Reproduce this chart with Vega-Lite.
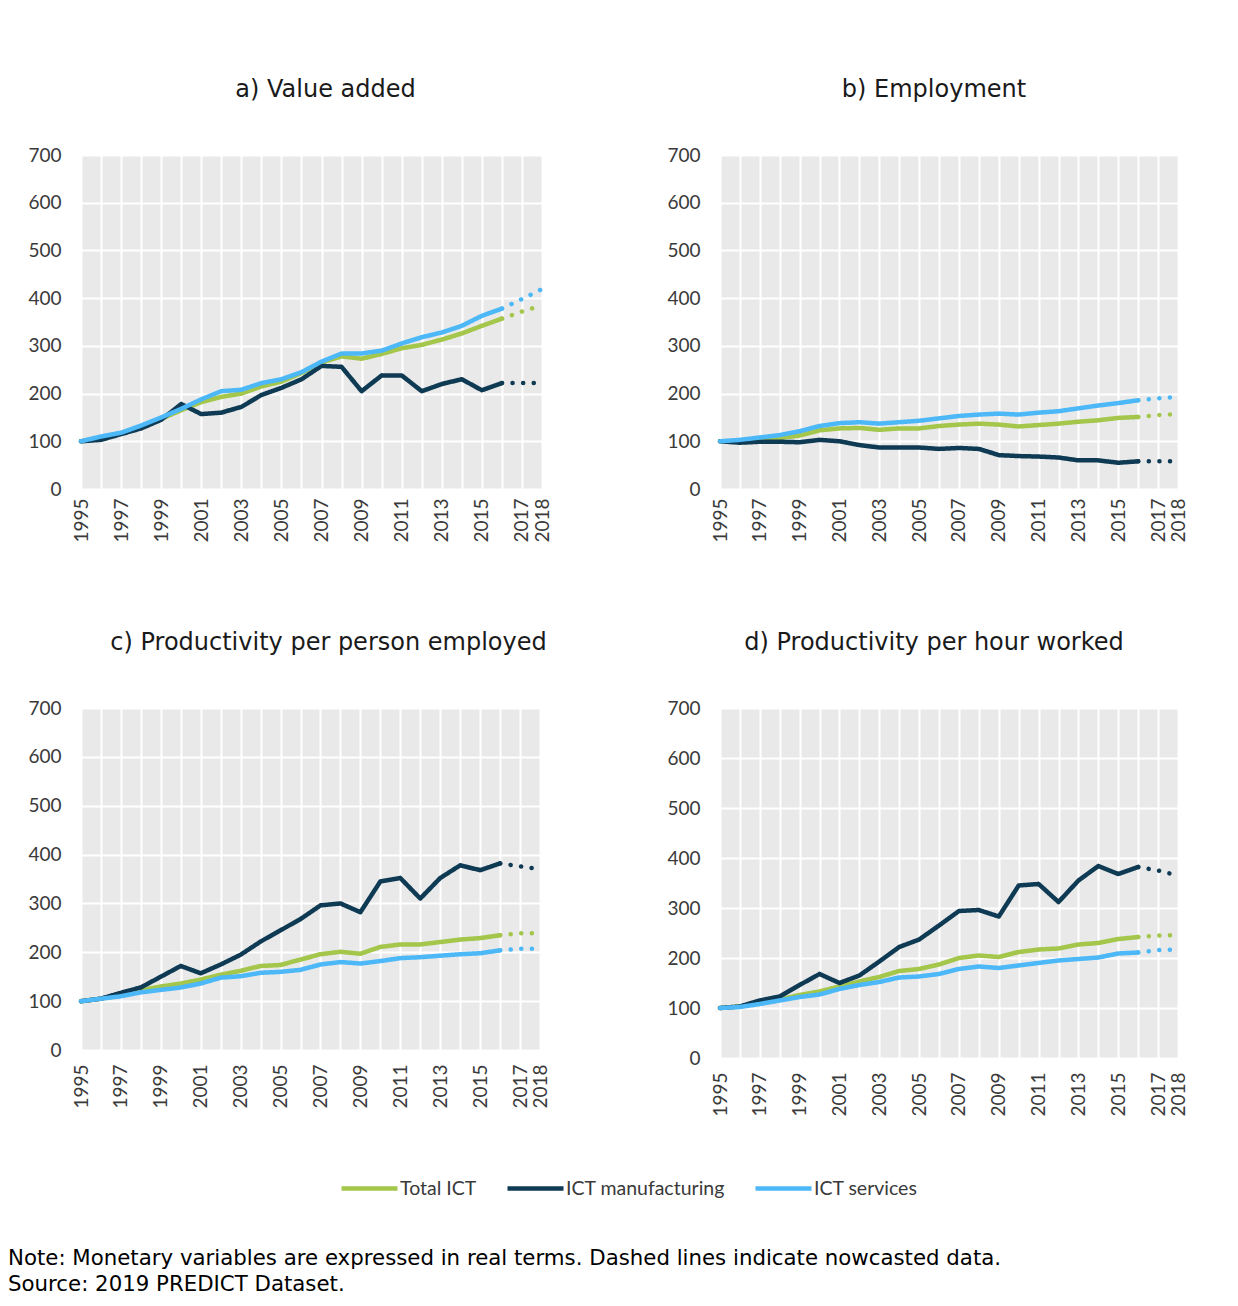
{
  "$schema": "https://vega.github.io/schema/vega-lite/v6.json",
  "background": "white",
  "padding": {"left": 8, "top": 78, "right": 5, "bottom": 5},
  "datasets": {
    "d": [
      {"p":"a","s":"Total ICT","x":1995,"v":100,"k":"actual"},{"p":"a","s":"Total ICT","x":1996,"v":108,"k":"actual"},{"p":"a","s":"Total ICT","x":1997,"v":117,"k":"actual"},{"p":"a","s":"Total ICT","x":1998,"v":130,"k":"actual"},{"p":"a","s":"Total ICT","x":1999,"v":147,"k":"actual"},{"p":"a","s":"Total ICT","x":2000,"v":165,"k":"actual"},{"p":"a","s":"Total ICT","x":2001,"v":182,"k":"actual"},{"p":"a","s":"Total ICT","x":2002,"v":193,"k":"actual"},{"p":"a","s":"Total ICT","x":2003,"v":200,"k":"actual"},{"p":"a","s":"Total ICT","x":2004,"v":215,"k":"actual"},{"p":"a","s":"Total ICT","x":2005,"v":225,"k":"actual"},{"p":"a","s":"Total ICT","x":2006,"v":243,"k":"actual"},{"p":"a","s":"Total ICT","x":2007,"v":265,"k":"actual"},{"p":"a","s":"Total ICT","x":2008,"v":278,"k":"actual"},{"p":"a","s":"Total ICT","x":2009,"v":273,"k":"actual"},{"p":"a","s":"Total ICT","x":2010,"v":283,"k":"actual"},{"p":"a","s":"Total ICT","x":2011,"v":295,"k":"actual"},{"p":"a","s":"Total ICT","x":2012,"v":302,"k":"actual"},{"p":"a","s":"Total ICT","x":2013,"v":313,"k":"actual"},{"p":"a","s":"Total ICT","x":2014,"v":326,"k":"actual"},{"p":"a","s":"Total ICT","x":2015,"v":342,"k":"actual"},{"p":"a","s":"Total ICT","x":2016,"v":357,"k":"actual"},
      {"p":"a","s":"Total ICT","x":2016,"v":357,"k":"nowcast"},{"p":"a","s":"Total ICT","x":2017,"v":372,"k":"nowcast"},{"p":"a","s":"Total ICT","x":2018,"v":385,"k":"nowcast"},
      {"p":"a","s":"ICT manufacturing","x":1995,"v":100,"k":"actual"},{"p":"a","s":"ICT manufacturing","x":1996,"v":103,"k":"actual"},{"p":"a","s":"ICT manufacturing","x":1997,"v":115,"k":"actual"},{"p":"a","s":"ICT manufacturing","x":1998,"v":127,"k":"actual"},{"p":"a","s":"ICT manufacturing","x":1999,"v":145,"k":"actual"},{"p":"a","s":"ICT manufacturing","x":2000,"v":178,"k":"actual"},{"p":"a","s":"ICT manufacturing","x":2001,"v":157,"k":"actual"},{"p":"a","s":"ICT manufacturing","x":2002,"v":160,"k":"actual"},{"p":"a","s":"ICT manufacturing","x":2003,"v":172,"k":"actual"},{"p":"a","s":"ICT manufacturing","x":2004,"v":197,"k":"actual"},{"p":"a","s":"ICT manufacturing","x":2005,"v":212,"k":"actual"},{"p":"a","s":"ICT manufacturing","x":2006,"v":230,"k":"actual"},{"p":"a","s":"ICT manufacturing","x":2007,"v":258,"k":"actual"},{"p":"a","s":"ICT manufacturing","x":2008,"v":256,"k":"actual"},{"p":"a","s":"ICT manufacturing","x":2009,"v":205,"k":"actual"},{"p":"a","s":"ICT manufacturing","x":2010,"v":238,"k":"actual"},{"p":"a","s":"ICT manufacturing","x":2011,"v":238,"k":"actual"},{"p":"a","s":"ICT manufacturing","x":2012,"v":205,"k":"actual"},{"p":"a","s":"ICT manufacturing","x":2013,"v":220,"k":"actual"},{"p":"a","s":"ICT manufacturing","x":2014,"v":230,"k":"actual"},{"p":"a","s":"ICT manufacturing","x":2015,"v":207,"k":"actual"},{"p":"a","s":"ICT manufacturing","x":2016,"v":222,"k":"actual"},
      {"p":"a","s":"ICT manufacturing","x":2016,"v":222,"k":"nowcast"},{"p":"a","s":"ICT manufacturing","x":2017,"v":222,"k":"nowcast"},{"p":"a","s":"ICT manufacturing","x":2018,"v":222,"k":"nowcast"},
      {"p":"a","s":"ICT services","x":1995,"v":100,"k":"actual"},{"p":"a","s":"ICT services","x":1996,"v":110,"k":"actual"},{"p":"a","s":"ICT services","x":1997,"v":118,"k":"actual"},{"p":"a","s":"ICT services","x":1998,"v":133,"k":"actual"},{"p":"a","s":"ICT services","x":1999,"v":150,"k":"actual"},{"p":"a","s":"ICT services","x":2000,"v":168,"k":"actual"},{"p":"a","s":"ICT services","x":2001,"v":188,"k":"actual"},{"p":"a","s":"ICT services","x":2002,"v":205,"k":"actual"},{"p":"a","s":"ICT services","x":2003,"v":208,"k":"actual"},{"p":"a","s":"ICT services","x":2004,"v":222,"k":"actual"},{"p":"a","s":"ICT services","x":2005,"v":230,"k":"actual"},{"p":"a","s":"ICT services","x":2006,"v":245,"k":"actual"},{"p":"a","s":"ICT services","x":2007,"v":267,"k":"actual"},{"p":"a","s":"ICT services","x":2008,"v":284,"k":"actual"},{"p":"a","s":"ICT services","x":2009,"v":284,"k":"actual"},{"p":"a","s":"ICT services","x":2010,"v":290,"k":"actual"},{"p":"a","s":"ICT services","x":2011,"v":305,"k":"actual"},{"p":"a","s":"ICT services","x":2012,"v":318,"k":"actual"},{"p":"a","s":"ICT services","x":2013,"v":328,"k":"actual"},{"p":"a","s":"ICT services","x":2014,"v":342,"k":"actual"},{"p":"a","s":"ICT services","x":2015,"v":363,"k":"actual"},{"p":"a","s":"ICT services","x":2016,"v":378,"k":"actual"},
      {"p":"a","s":"ICT services","x":2016,"v":378,"k":"nowcast"},{"p":"a","s":"ICT services","x":2017,"v":398,"k":"nowcast"},{"p":"a","s":"ICT services","x":2018,"v":419,"k":"nowcast"},

      {"p":"b","s":"Total ICT","x":1995,"v":100,"k":"actual"},{"p":"b","s":"Total ICT","x":1996,"v":100,"k":"actual"},{"p":"b","s":"Total ICT","x":1997,"v":104,"k":"actual"},{"p":"b","s":"Total ICT","x":1998,"v":107,"k":"actual"},{"p":"b","s":"Total ICT","x":1999,"v":112,"k":"actual"},{"p":"b","s":"Total ICT","x":2000,"v":123,"k":"actual"},{"p":"b","s":"Total ICT","x":2001,"v":127,"k":"actual"},{"p":"b","s":"Total ICT","x":2002,"v":128,"k":"actual"},{"p":"b","s":"Total ICT","x":2003,"v":124,"k":"actual"},{"p":"b","s":"Total ICT","x":2004,"v":127,"k":"actual"},{"p":"b","s":"Total ICT","x":2005,"v":127,"k":"actual"},{"p":"b","s":"Total ICT","x":2006,"v":132,"k":"actual"},{"p":"b","s":"Total ICT","x":2007,"v":135,"k":"actual"},{"p":"b","s":"Total ICT","x":2008,"v":137,"k":"actual"},{"p":"b","s":"Total ICT","x":2009,"v":135,"k":"actual"},{"p":"b","s":"Total ICT","x":2010,"v":131,"k":"actual"},{"p":"b","s":"Total ICT","x":2011,"v":134,"k":"actual"},{"p":"b","s":"Total ICT","x":2012,"v":137,"k":"actual"},{"p":"b","s":"Total ICT","x":2013,"v":141,"k":"actual"},{"p":"b","s":"Total ICT","x":2014,"v":144,"k":"actual"},{"p":"b","s":"Total ICT","x":2015,"v":149,"k":"actual"},{"p":"b","s":"Total ICT","x":2016,"v":151,"k":"actual"},
      {"p":"b","s":"Total ICT","x":2016,"v":151,"k":"nowcast"},{"p":"b","s":"Total ICT","x":2017,"v":155,"k":"nowcast"},{"p":"b","s":"Total ICT","x":2018,"v":157,"k":"nowcast"},
      {"p":"b","s":"ICT manufacturing","x":1995,"v":100,"k":"actual"},{"p":"b","s":"ICT manufacturing","x":1996,"v":97,"k":"actual"},{"p":"b","s":"ICT manufacturing","x":1997,"v":99,"k":"actual"},{"p":"b","s":"ICT manufacturing","x":1998,"v":99,"k":"actual"},{"p":"b","s":"ICT manufacturing","x":1999,"v":98,"k":"actual"},{"p":"b","s":"ICT manufacturing","x":2000,"v":103,"k":"actual"},{"p":"b","s":"ICT manufacturing","x":2001,"v":100,"k":"actual"},{"p":"b","s":"ICT manufacturing","x":2002,"v":92,"k":"actual"},{"p":"b","s":"ICT manufacturing","x":2003,"v":87,"k":"actual"},{"p":"b","s":"ICT manufacturing","x":2004,"v":87,"k":"actual"},{"p":"b","s":"ICT manufacturing","x":2005,"v":87,"k":"actual"},{"p":"b","s":"ICT manufacturing","x":2006,"v":84,"k":"actual"},{"p":"b","s":"ICT manufacturing","x":2007,"v":86,"k":"actual"},{"p":"b","s":"ICT manufacturing","x":2008,"v":84,"k":"actual"},{"p":"b","s":"ICT manufacturing","x":2009,"v":71,"k":"actual"},{"p":"b","s":"ICT manufacturing","x":2010,"v":69,"k":"actual"},{"p":"b","s":"ICT manufacturing","x":2011,"v":68,"k":"actual"},{"p":"b","s":"ICT manufacturing","x":2012,"v":66,"k":"actual"},{"p":"b","s":"ICT manufacturing","x":2013,"v":60,"k":"actual"},{"p":"b","s":"ICT manufacturing","x":2014,"v":60,"k":"actual"},{"p":"b","s":"ICT manufacturing","x":2015,"v":55,"k":"actual"},{"p":"b","s":"ICT manufacturing","x":2016,"v":58,"k":"actual"},
      {"p":"b","s":"ICT manufacturing","x":2016,"v":58,"k":"nowcast"},{"p":"b","s":"ICT manufacturing","x":2017,"v":58,"k":"nowcast"},{"p":"b","s":"ICT manufacturing","x":2018,"v":58,"k":"nowcast"},
      {"p":"b","s":"ICT services","x":1995,"v":100,"k":"actual"},{"p":"b","s":"ICT services","x":1996,"v":103,"k":"actual"},{"p":"b","s":"ICT services","x":1997,"v":108,"k":"actual"},{"p":"b","s":"ICT services","x":1998,"v":113,"k":"actual"},{"p":"b","s":"ICT services","x":1999,"v":121,"k":"actual"},{"p":"b","s":"ICT services","x":2000,"v":132,"k":"actual"},{"p":"b","s":"ICT services","x":2001,"v":138,"k":"actual"},{"p":"b","s":"ICT services","x":2002,"v":140,"k":"actual"},{"p":"b","s":"ICT services","x":2003,"v":137,"k":"actual"},{"p":"b","s":"ICT services","x":2004,"v":140,"k":"actual"},{"p":"b","s":"ICT services","x":2005,"v":143,"k":"actual"},{"p":"b","s":"ICT services","x":2006,"v":148,"k":"actual"},{"p":"b","s":"ICT services","x":2007,"v":153,"k":"actual"},{"p":"b","s":"ICT services","x":2008,"v":156,"k":"actual"},{"p":"b","s":"ICT services","x":2009,"v":158,"k":"actual"},{"p":"b","s":"ICT services","x":2010,"v":156,"k":"actual"},{"p":"b","s":"ICT services","x":2011,"v":160,"k":"actual"},{"p":"b","s":"ICT services","x":2012,"v":163,"k":"actual"},{"p":"b","s":"ICT services","x":2013,"v":169,"k":"actual"},{"p":"b","s":"ICT services","x":2014,"v":175,"k":"actual"},{"p":"b","s":"ICT services","x":2015,"v":180,"k":"actual"},{"p":"b","s":"ICT services","x":2016,"v":186,"k":"actual"},
      {"p":"b","s":"ICT services","x":2016,"v":186,"k":"nowcast"},{"p":"b","s":"ICT services","x":2017,"v":190,"k":"nowcast"},{"p":"b","s":"ICT services","x":2018,"v":193,"k":"nowcast"},

      {"p":"c","s":"Total ICT","x":1995,"v":100,"k":"actual"},{"p":"c","s":"Total ICT","x":1996,"v":105,"k":"actual"},{"p":"c","s":"Total ICT","x":1997,"v":112,"k":"actual"},{"p":"c","s":"Total ICT","x":1998,"v":122,"k":"actual"},{"p":"c","s":"Total ICT","x":1999,"v":130,"k":"actual"},{"p":"c","s":"Total ICT","x":2000,"v":136,"k":"actual"},{"p":"c","s":"Total ICT","x":2001,"v":144,"k":"actual"},{"p":"c","s":"Total ICT","x":2002,"v":154,"k":"actual"},{"p":"c","s":"Total ICT","x":2003,"v":162,"k":"actual"},{"p":"c","s":"Total ICT","x":2004,"v":172,"k":"actual"},{"p":"c","s":"Total ICT","x":2005,"v":174,"k":"actual"},{"p":"c","s":"Total ICT","x":2006,"v":185,"k":"actual"},{"p":"c","s":"Total ICT","x":2007,"v":196,"k":"actual"},{"p":"c","s":"Total ICT","x":2008,"v":201,"k":"actual"},{"p":"c","s":"Total ICT","x":2009,"v":197,"k":"actual"},{"p":"c","s":"Total ICT","x":2010,"v":211,"k":"actual"},{"p":"c","s":"Total ICT","x":2011,"v":216,"k":"actual"},{"p":"c","s":"Total ICT","x":2012,"v":216,"k":"actual"},{"p":"c","s":"Total ICT","x":2013,"v":221,"k":"actual"},{"p":"c","s":"Total ICT","x":2014,"v":226,"k":"actual"},{"p":"c","s":"Total ICT","x":2015,"v":229,"k":"actual"},{"p":"c","s":"Total ICT","x":2016,"v":235,"k":"actual"},
      {"p":"c","s":"Total ICT","x":2016,"v":235,"k":"nowcast"},{"p":"c","s":"Total ICT","x":2017,"v":239,"k":"nowcast"},{"p":"c","s":"Total ICT","x":2018,"v":239,"k":"nowcast"},
      {"p":"c","s":"ICT manufacturing","x":1995,"v":100,"k":"actual"},{"p":"c","s":"ICT manufacturing","x":1996,"v":105,"k":"actual"},{"p":"c","s":"ICT manufacturing","x":1997,"v":117,"k":"actual"},{"p":"c","s":"ICT manufacturing","x":1998,"v":128,"k":"actual"},{"p":"c","s":"ICT manufacturing","x":1999,"v":150,"k":"actual"},{"p":"c","s":"ICT manufacturing","x":2000,"v":172,"k":"actual"},{"p":"c","s":"ICT manufacturing","x":2001,"v":157,"k":"actual"},{"p":"c","s":"ICT manufacturing","x":2002,"v":175,"k":"actual"},{"p":"c","s":"ICT manufacturing","x":2003,"v":195,"k":"actual"},{"p":"c","s":"ICT manufacturing","x":2004,"v":222,"k":"actual"},{"p":"c","s":"ICT manufacturing","x":2005,"v":245,"k":"actual"},{"p":"c","s":"ICT manufacturing","x":2006,"v":268,"k":"actual"},{"p":"c","s":"ICT manufacturing","x":2007,"v":296,"k":"actual"},{"p":"c","s":"ICT manufacturing","x":2008,"v":300,"k":"actual"},{"p":"c","s":"ICT manufacturing","x":2009,"v":282,"k":"actual"},{"p":"c","s":"ICT manufacturing","x":2010,"v":345,"k":"actual"},{"p":"c","s":"ICT manufacturing","x":2011,"v":352,"k":"actual"},{"p":"c","s":"ICT manufacturing","x":2012,"v":310,"k":"actual"},{"p":"c","s":"ICT manufacturing","x":2013,"v":352,"k":"actual"},{"p":"c","s":"ICT manufacturing","x":2014,"v":378,"k":"actual"},{"p":"c","s":"ICT manufacturing","x":2015,"v":368,"k":"actual"},{"p":"c","s":"ICT manufacturing","x":2016,"v":382,"k":"actual"},
      {"p":"c","s":"ICT manufacturing","x":2016,"v":382,"k":"nowcast"},{"p":"c","s":"ICT manufacturing","x":2017,"v":376,"k":"nowcast"},{"p":"c","s":"ICT manufacturing","x":2018,"v":370,"k":"nowcast"},
      {"p":"c","s":"ICT services","x":1995,"v":100,"k":"actual"},{"p":"c","s":"ICT services","x":1996,"v":105,"k":"actual"},{"p":"c","s":"ICT services","x":1997,"v":110,"k":"actual"},{"p":"c","s":"ICT services","x":1998,"v":118,"k":"actual"},{"p":"c","s":"ICT services","x":1999,"v":123,"k":"actual"},{"p":"c","s":"ICT services","x":2000,"v":128,"k":"actual"},{"p":"c","s":"ICT services","x":2001,"v":136,"k":"actual"},{"p":"c","s":"ICT services","x":2002,"v":148,"k":"actual"},{"p":"c","s":"ICT services","x":2003,"v":151,"k":"actual"},{"p":"c","s":"ICT services","x":2004,"v":158,"k":"actual"},{"p":"c","s":"ICT services","x":2005,"v":160,"k":"actual"},{"p":"c","s":"ICT services","x":2006,"v":164,"k":"actual"},{"p":"c","s":"ICT services","x":2007,"v":175,"k":"actual"},{"p":"c","s":"ICT services","x":2008,"v":180,"k":"actual"},{"p":"c","s":"ICT services","x":2009,"v":177,"k":"actual"},{"p":"c","s":"ICT services","x":2010,"v":182,"k":"actual"},{"p":"c","s":"ICT services","x":2011,"v":188,"k":"actual"},{"p":"c","s":"ICT services","x":2012,"v":190,"k":"actual"},{"p":"c","s":"ICT services","x":2013,"v":193,"k":"actual"},{"p":"c","s":"ICT services","x":2014,"v":196,"k":"actual"},{"p":"c","s":"ICT services","x":2015,"v":198,"k":"actual"},{"p":"c","s":"ICT services","x":2016,"v":204,"k":"actual"},
      {"p":"c","s":"ICT services","x":2016,"v":204,"k":"nowcast"},{"p":"c","s":"ICT services","x":2017,"v":207,"k":"nowcast"},{"p":"c","s":"ICT services","x":2018,"v":207,"k":"nowcast"},

      {"p":"d","s":"Total ICT","x":1995,"v":100,"k":"actual"},{"p":"d","s":"Total ICT","x":1996,"v":103,"k":"actual"},{"p":"d","s":"Total ICT","x":1997,"v":110,"k":"actual"},{"p":"d","s":"Total ICT","x":1998,"v":117,"k":"actual"},{"p":"d","s":"Total ICT","x":1999,"v":126,"k":"actual"},{"p":"d","s":"Total ICT","x":2000,"v":133,"k":"actual"},{"p":"d","s":"Total ICT","x":2001,"v":143,"k":"actual"},{"p":"d","s":"Total ICT","x":2002,"v":153,"k":"actual"},{"p":"d","s":"Total ICT","x":2003,"v":162,"k":"actual"},{"p":"d","s":"Total ICT","x":2004,"v":174,"k":"actual"},{"p":"d","s":"Total ICT","x":2005,"v":178,"k":"actual"},{"p":"d","s":"Total ICT","x":2006,"v":187,"k":"actual"},{"p":"d","s":"Total ICT","x":2007,"v":200,"k":"actual"},{"p":"d","s":"Total ICT","x":2008,"v":205,"k":"actual"},{"p":"d","s":"Total ICT","x":2009,"v":202,"k":"actual"},{"p":"d","s":"Total ICT","x":2010,"v":212,"k":"actual"},{"p":"d","s":"Total ICT","x":2011,"v":217,"k":"actual"},{"p":"d","s":"Total ICT","x":2012,"v":219,"k":"actual"},{"p":"d","s":"Total ICT","x":2013,"v":227,"k":"actual"},{"p":"d","s":"Total ICT","x":2014,"v":230,"k":"actual"},{"p":"d","s":"Total ICT","x":2015,"v":238,"k":"actual"},{"p":"d","s":"Total ICT","x":2016,"v":242,"k":"actual"},
      {"p":"d","s":"Total ICT","x":2016,"v":242,"k":"nowcast"},{"p":"d","s":"Total ICT","x":2017,"v":245,"k":"nowcast"},{"p":"d","s":"Total ICT","x":2018,"v":246,"k":"nowcast"},
      {"p":"d","s":"ICT manufacturing","x":1995,"v":100,"k":"actual"},{"p":"d","s":"ICT manufacturing","x":1996,"v":103,"k":"actual"},{"p":"d","s":"ICT manufacturing","x":1997,"v":115,"k":"actual"},{"p":"d","s":"ICT manufacturing","x":1998,"v":123,"k":"actual"},{"p":"d","s":"ICT manufacturing","x":1999,"v":146,"k":"actual"},{"p":"d","s":"ICT manufacturing","x":2000,"v":168,"k":"actual"},{"p":"d","s":"ICT manufacturing","x":2001,"v":150,"k":"actual"},{"p":"d","s":"ICT manufacturing","x":2002,"v":165,"k":"actual"},{"p":"d","s":"ICT manufacturing","x":2003,"v":193,"k":"actual"},{"p":"d","s":"ICT manufacturing","x":2004,"v":222,"k":"actual"},{"p":"d","s":"ICT manufacturing","x":2005,"v":237,"k":"actual"},{"p":"d","s":"ICT manufacturing","x":2006,"v":265,"k":"actual"},{"p":"d","s":"ICT manufacturing","x":2007,"v":294,"k":"actual"},{"p":"d","s":"ICT manufacturing","x":2008,"v":296,"k":"actual"},{"p":"d","s":"ICT manufacturing","x":2009,"v":283,"k":"actual"},{"p":"d","s":"ICT manufacturing","x":2010,"v":345,"k":"actual"},{"p":"d","s":"ICT manufacturing","x":2011,"v":348,"k":"actual"},{"p":"d","s":"ICT manufacturing","x":2012,"v":312,"k":"actual"},{"p":"d","s":"ICT manufacturing","x":2013,"v":355,"k":"actual"},{"p":"d","s":"ICT manufacturing","x":2014,"v":384,"k":"actual"},{"p":"d","s":"ICT manufacturing","x":2015,"v":368,"k":"actual"},{"p":"d","s":"ICT manufacturing","x":2016,"v":382,"k":"actual"},
      {"p":"d","s":"ICT manufacturing","x":2016,"v":382,"k":"nowcast"},{"p":"d","s":"ICT manufacturing","x":2017,"v":375,"k":"nowcast"},{"p":"d","s":"ICT manufacturing","x":2018,"v":365,"k":"nowcast"},
      {"p":"d","s":"ICT services","x":1995,"v":100,"k":"actual"},{"p":"d","s":"ICT services","x":1996,"v":102,"k":"actual"},{"p":"d","s":"ICT services","x":1997,"v":108,"k":"actual"},{"p":"d","s":"ICT services","x":1998,"v":115,"k":"actual"},{"p":"d","s":"ICT services","x":1999,"v":122,"k":"actual"},{"p":"d","s":"ICT services","x":2000,"v":127,"k":"actual"},{"p":"d","s":"ICT services","x":2001,"v":138,"k":"actual"},{"p":"d","s":"ICT services","x":2002,"v":146,"k":"actual"},{"p":"d","s":"ICT services","x":2003,"v":152,"k":"actual"},{"p":"d","s":"ICT services","x":2004,"v":161,"k":"actual"},{"p":"d","s":"ICT services","x":2005,"v":163,"k":"actual"},{"p":"d","s":"ICT services","x":2006,"v":168,"k":"actual"},{"p":"d","s":"ICT services","x":2007,"v":178,"k":"actual"},{"p":"d","s":"ICT services","x":2008,"v":183,"k":"actual"},{"p":"d","s":"ICT services","x":2009,"v":180,"k":"actual"},{"p":"d","s":"ICT services","x":2010,"v":185,"k":"actual"},{"p":"d","s":"ICT services","x":2011,"v":190,"k":"actual"},{"p":"d","s":"ICT services","x":2012,"v":195,"k":"actual"},{"p":"d","s":"ICT services","x":2013,"v":198,"k":"actual"},{"p":"d","s":"ICT services","x":2014,"v":201,"k":"actual"},{"p":"d","s":"ICT services","x":2015,"v":209,"k":"actual"},{"p":"d","s":"ICT services","x":2016,"v":211,"k":"actual"},
      {"p":"d","s":"ICT services","x":2016,"v":211,"k":"nowcast"},{"p":"d","s":"ICT services","x":2017,"v":216,"k":"nowcast"},{"p":"d","s":"ICT services","x":2018,"v":217,"k":"nowcast"}
    ]
  },
  "title": {
    "text": ["Note: Monetary variables are expressed in real terms. Dashed lines indicate nowcasted data.", "Source: 2019 PREDICT Dataset."],
    "orient": "bottom",
    "anchor": "start",
    "font": "DejaVu Sans",
    "fontSize": 21.3,
    "fontWeight": "normal",
    "color": "#000000",
    "lineHeight": 26,
    "offset": 50,
    "dx": 0
  },
  "spacing": 88,
  "vconcat": [
    {
      "spacing": 103,
      "hconcat": [
        {
          "title": {"text": "a) Value added", "dx": 14},
          "width": 461, "height": 334,
          "data": {"name": "d"},
          "transform": [{"filter": "datum.p == 'a'"}],
          "mark": {"type": "line"},
          "encoding": {
            "x": {"field": "x", "type": "quantitative", "title": null, "scale": {"domain": [1995, 2018], "nice": false, "zero": false},
                  "axis": {"values": [1995,1996,1997,1998,1999,2000,2001,2002,2003,2004,2005,2006,2007,2008,2009,2010,2011,2012,2013,2014,2015,2016,2017,2018], "labelExpr": "(datum.value % 2 == 1 || datum.value == 2018) ? '' + datum.value : ''", "labelAngle": -90, "labelOverlap": false, "labelFlush": false, "labelPadding": 9}},
            "y": {"field": "v", "type": "quantitative", "title": null, "scale": {"domain": [0, 700], "nice": false},
                  "axis": {"values": [0,100,200,300,400,500,600,700], "labelPadding": 20, "minExtent": 73, "maxExtent": 73}},
            "color": {"field": "s", "type": "nominal", "scale": {"domain": ["Total ICT", "ICT manufacturing", "ICT services"], "range": ["#a3c64b", "#0f3a54", "#4db8f7"]}, "legend": {"title": null, "orient": "none", "legendX": 258, "legendY": 1003, "direction": "horizontal"}},
            "strokeDash": {"field": "k", "type": "nominal", "scale": {"domain": ["actual", "nowcast"], "range": [[1, 0], [0.1, 10.5]]}, "legend": null}
          }
        },
        {
          "title": {"text": "b) Employment", "dx": -15},
          "width": 458, "height": 334,
          "data": {"name": "d"},
          "transform": [{"filter": "datum.p == 'b'"}],
          "mark": {"type": "line"},
          "encoding": {
            "x": {"field": "x", "type": "quantitative", "title": null, "scale": {"domain": [1995, 2018], "nice": false, "zero": false},
                  "axis": {"values": [1995,1996,1997,1998,1999,2000,2001,2002,2003,2004,2005,2006,2007,2008,2009,2010,2011,2012,2013,2014,2015,2016,2017,2018], "labelExpr": "(datum.value % 2 == 1 || datum.value == 2018) ? '' + datum.value : ''", "labelAngle": -90, "labelOverlap": false, "labelFlush": false, "labelPadding": 9}},
            "y": {"field": "v", "type": "quantitative", "title": null, "scale": {"domain": [0, 700], "nice": false},
                  "axis": {"values": [0,100,200,300,400,500,600,700], "labelPadding": 20, "minExtent": 65, "maxExtent": 65}},
            "color": {"field": "s", "type": "nominal", "scale": {"domain": ["Total ICT", "ICT manufacturing", "ICT services"], "range": ["#a3c64b", "#0f3a54", "#4db8f7"]}, "legend": {"title": null, "orient": "none", "legendX": 258, "legendY": 1003, "direction": "horizontal"}},
            "strokeDash": {"field": "k", "type": "nominal", "scale": {"domain": ["actual", "nowcast"], "range": [[1, 0], [0.1, 10.5]]}, "legend": null}
          }
        }
      ]
    },
    {
      "spacing": 105,
      "hconcat": [
        {
          "title": {"text": "c) Productivity per person employed", "dx": 18},
          "width": 459, "height": 342,
          "data": {"name": "d"},
          "transform": [{"filter": "datum.p == 'c'"}],
          "mark": {"type": "line"},
          "encoding": {
            "x": {"field": "x", "type": "quantitative", "title": null, "scale": {"domain": [1995, 2018], "nice": false, "zero": false},
                  "axis": {"values": [1995,1996,1997,1998,1999,2000,2001,2002,2003,2004,2005,2006,2007,2008,2009,2010,2011,2012,2013,2014,2015,2016,2017,2018], "labelExpr": "(datum.value % 2 == 1 || datum.value == 2018) ? '' + datum.value : ''", "labelAngle": -90, "labelOverlap": false, "labelFlush": false, "labelPadding": 14}},
            "y": {"field": "v", "type": "quantitative", "title": null, "scale": {"domain": [0, 700], "nice": false},
                  "axis": {"values": [0,100,200,300,400,500,600,700], "labelPadding": 20, "minExtent": 73, "maxExtent": 73}},
            "color": {"field": "s", "type": "nominal", "scale": {"domain": ["Total ICT", "ICT manufacturing", "ICT services"], "range": ["#a3c64b", "#0f3a54", "#4db8f7"]}, "legend": {"title": null, "orient": "none", "legendX": 258, "legendY": 1003, "direction": "horizontal"}},
            "strokeDash": {"field": "k", "type": "nominal", "scale": {"domain": ["actual", "nowcast"], "range": [[1, 0], [0.1, 10.5]]}, "legend": null}
          }
        },
        {
          "title": {"text": "d) Productivity per hour worked", "dx": -15},
          "width": 458, "height": 350,
          "data": {"name": "d"},
          "transform": [{"filter": "datum.p == 'd'"}],
          "mark": {"type": "line"},
          "encoding": {
            "x": {"field": "x", "type": "quantitative", "title": null, "scale": {"domain": [1995, 2018], "nice": false, "zero": false},
                  "axis": {"values": [1995,1996,1997,1998,1999,2000,2001,2002,2003,2004,2005,2006,2007,2008,2009,2010,2011,2012,2013,2014,2015,2016,2017,2018], "labelExpr": "(datum.value % 2 == 1 || datum.value == 2018) ? '' + datum.value : ''", "labelAngle": -90, "labelOverlap": false, "labelFlush": false, "labelPadding": 14}},
            "y": {"field": "v", "type": "quantitative", "title": null, "scale": {"domain": [0, 700], "nice": false},
                  "axis": {"values": [0,100,200,300,400,500,600,700], "labelPadding": 20, "minExtent": 65, "maxExtent": 65}},
            "color": {"field": "s", "type": "nominal", "scale": {"domain": ["Total ICT", "ICT manufacturing", "ICT services"], "range": ["#a3c64b", "#0f3a54", "#4db8f7"]}, "legend": {"title": null, "orient": "none", "legendX": 258, "legendY": 1003, "direction": "horizontal"}},
            "strokeDash": {"field": "k", "type": "nominal", "scale": {"domain": ["actual", "nowcast"], "range": [[1, 0], [0.1, 10.5]]}, "legend": null}
          }
        }
      ]
    }
  ],
  "config": {
    "view": {"fill": "#e9e9e9", "stroke": null},
    "axis": {"domain": false, "ticks": false, "grid": true, "gridColor": "#ffffff", "gridWidth": 2, "gridOpacity": 1, "labelFont": "Lato", "labelFontSize": 19, "labelColor": "#3a3a3a"},
    "title": {"font": "DejaVu Sans", "fontSize": 24, "fontWeight": "normal", "color": "#1a1a1a", "anchor": "middle", "offset": 44},
    "line": {"strokeWidth": 4.5, "strokeCap": "round", "strokeJoin": "round"},
    "legend": {"symbolType": "stroke", "symbolStrokeWidth": 5, "symbolSize": 3136, "labelFont": "Lato", "labelFontSize": 19.5, "labelColor": "#3a3a3a", "labelOffset": 0, "columnPadding": 28, "symbolOffset": 0, "padding": 0}
  }
}
